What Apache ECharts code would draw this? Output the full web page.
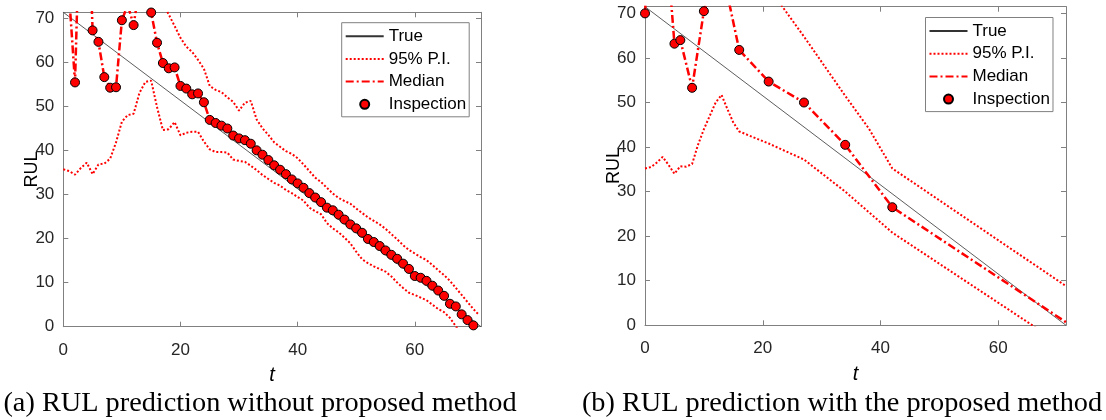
<!DOCTYPE html>
<html>
<head>
<meta charset="utf-8">
<script src="https://cdn.jsdelivr.net/npm/echarts@6/dist/echarts.min.js"></script>
<style>
  html, body { margin: 0; padding: 0; background: #fff; }
  #chart { width: 1106px; height: 420px; }
</style>
</head>
<body>
<div id="chart"></div>
<script>
// ---------- data ----------
// Panel (a): values indexed by time step t = 0, 1, 2, ...
const endA = 71.3;                      // failure time (true RUL hits zero)
const trueA = [[0, 71.3], [71.3, 0]];
const medianA = [78, 75, 55.4, 103, 105, 67.2, 64.6, 56.6, 54.2, 54.3,
  69.5, 73, 68.4, 77, 76, 71.25, 64.4, 59.8, 58.6, 58.8,
  54.6, 54.0, 52.7, 52.9, 50.9, 46.9, 46.2, 45.6, 44.95, 43.35,
  42.7, 42.3, 41.5, 40.0, 39.0, 37.8, 36.6, 35.6, 34.6, 33.4,
  32.5, 31.5, 30.3, 29.3, 28.25, 27.0, 26.4, 25.4, 24.3, 23.2,
  22.3, 21.3, 19.9, 19.2, 18.3, 17.3, 16.3, 15.4, 14.3, 13.1,
  11.5, 11.1, 10.4, 9.3, 8.2, 7.0, 5.2, 4.6, 2.8, 1.5, 0.3];
const upperA = [95, 96, 98, 100, 99, 97, 95, 93, 92, 90,
  88, 86, 85, 84, 82, 80, 77, 73.2, 70.8, 68.2,
  65.5, 63.5, 62.3, 60.5, 58.5, 54.6, 53.7, 53.2, 52.0, 51.0,
  49.0, 50.8, 51.2, 47.0, 45.0, 43.5, 41.8, 40.8, 39.8, 39.2,
  38.2, 36.8, 35.3, 33.8, 32.8, 31.5, 30.2, 29.2, 28.5, 27.9,
  26.8, 25.8, 24.8, 24.0, 23.2, 22.2, 21.0, 19.8, 18.5, 17.4,
  16.6, 15.8, 15.1, 14.0, 12.8, 11.7, 10.4, 8.8, 7.2, 5.6, 4.0, 2.6];
const lowerA = [35.7, 35.3, 34.5, 36.0, 37.2, 34.6, 36.8, 37.0, 38.1, 41.8,
  46.5, 48.0, 48.3, 53.0, 55.5, 55.8, 49.8, 44.6, 44.8, 46.4,
  43.4, 44.0, 44.2, 44.2, 42.0, 40.2, 39.6, 39.6, 39.5, 37.9,
  37.6, 37.4, 36.5, 35.5, 34.4, 33.5, 32.6, 32.0, 31.0, 30.3,
  29.4, 28.6, 27.0, 26.2, 25.5, 23.5, 22.3, 21.4, 20.2, 18.9,
  17.0, 15.3, 14.4, 13.7, 13.1, 12.5, 11.4, 10.0, 8.8, 7.7,
  7.2, 6.6, 6.0, 5.0, 4.0, 3.3, 2.0, 0.1, -1.6, -3.0, -4.5, -6.0];

// Panel (b): [t, value] vertices
const endB = 71.5;
const trueB = [[0, 71.5], [71.5, 0]];
const inspectB = [[0, 70.0], [5, 63.2], [6, 64.0], [8, 53.3], [10, 70.5],
  [16, 61.8], [21, 54.7], [27, 50.0], [34, 40.5], [42, 26.5]];
const medianB = [[0, 70.0], [1, 95], [2, 100], [3, 98], [4, 80], [5, 63.2], [6, 64.0],
  [8, 53.3], [10, 70.5], [11, 74.5], [14, 74.2], [16, 61.8], [21, 54.7],
  [27, 50.0], [34, 40.5], [42, 26.5], [71.5, 0.7]];
const upperB = [[0, 98], [16, 86], [21, 75.8], [27, 64.8], [34, 51.5],
  [38, 44.2], [42, 35.2], [71.5, 8.8]];
const lowerB = [[0, 35.2], [1, 35.5], [2, 36.5], [3, 37.8], [4, 36.0], [5, 34.0],
  [6, 35.7], [7, 35.6], [8, 36.2], [9, 40.5], [10, 44.0], [11, 47.0], [12, 50.0],
  [13, 51.7], [14, 48.5], [15, 45.5], [16, 43.5], [21, 40.8], [27, 37.2],
  [34, 30.0], [42, 20.8], [71.5, -5.0]];

const xTicks = { interval: 20 };
const yTicks = { interval: 10 };
const legendNames = ['True', '95% P.I.', 'Median', 'Inspection'];
const captionA = '(a) RUL prediction without proposed method';
const captionB = '(b) RUL prediction with the proposed method';

// ---------- styling ----------
const FONT = '"Liberation Sans", Arial, sans-serif';
const AXIS_GRAY = '#808080';
const RED = '#ff0000';
const indexed = arr => arr.map((v, i) => [i, v]);

function axisPair(kind, gridIndex, maxV, interval, name) {
  const main = {
    type: 'value', gridIndex, min: 0, max: maxV, interval,
    position: kind === 'x' ? 'bottom' : 'left',
    axisLine: { show: true, onZero: false, lineStyle: { color: AXIS_GRAY, width: 1 } },
    axisTick: { show: true, inside: true, length: 5, lineStyle: { color: AXIS_GRAY } },
    axisLabel: {
      show: true, showMaxLabel: false, color: '#262626', fontFamily: FONT, fontSize: 17,
      margin: kind === 'x' ? 15 : 9
    },
    splitLine: { show: false },
    name,
    nameLocation: 'middle',
    nameMoveOverlap: false,
    nameGap: kind === 'x' ? 39 : 22,
    nameTextStyle: kind === 'x'
      ? { fontFamily: FONT, fontSize: 20, fontStyle: 'italic', color: '#000' }
      : { fontFamily: FONT, fontSize: 18, color: '#000' }
  };
  const mirror = {
    type: 'value', gridIndex, min: 0, max: maxV, interval,
    position: kind === 'x' ? 'top' : 'right',
    axisLine: { show: true, onZero: false, lineStyle: { color: AXIS_GRAY, width: 1 } },
    axisTick: { show: true, inside: true, length: 5, lineStyle: { color: AXIS_GRAY } },
    axisLabel: { show: false },
    splitLine: { show: false }
  };
  return [main, mirror];
}

function panelSeries(xi, yi, trueData, upper, lower, median, inspect) {
  const base = { xAxisIndex: xi, yAxisIndex: yi, animation: false };
  return [
    Object.assign({}, base, {
      name: 'True', type: 'line', data: trueData, symbol: 'none', z: 2,
      lineStyle: { color: '#333333', width: 0.8 }, itemStyle: { color: '#333333' }
    }),
    Object.assign({}, base, {
      name: '95% P.I.', type: 'line', data: upper, symbol: 'none', z: 3,
      lineStyle: { color: RED, width: 2, type: [2, 2] }, itemStyle: { color: RED }
    }),
    Object.assign({}, base, {
      name: '95% P.I.', type: 'line', data: lower, symbol: 'none', z: 3,
      lineStyle: { color: RED, width: 2, type: [2, 2] }, itemStyle: { color: RED }
    }),
    Object.assign({}, base, {
      name: 'Median', type: 'line', data: median, symbol: 'none', z: 4,
      lineStyle: { color: RED, width: 2.5, type: [8, 3, 2, 3] }, itemStyle: { color: RED }
    }),
    Object.assign({}, base, {
      name: 'Inspection', type: 'scatter', data: inspect, symbol: 'circle', symbolSize: 9, z: 5,
      itemStyle: { color: RED, borderColor: '#000', borderWidth: 1, opacity: 1 }
    })
  ];
}

function legendAt(left, top) {
  const hide = { itemStyle: { opacity: 0 } };
  return {
    orient: 'vertical', left, top,
    padding: [5, 3, 4, 3],
    itemWidth: 38, itemHeight: 9, itemGap: 5.7,
    backgroundColor: '#fff', borderColor: AXIS_GRAY, borderWidth: 1,
    textStyle: { fontFamily: FONT, fontSize: 17, color: '#000' },
    selectedMode: false,
    data: [
      Object.assign({ name: legendNames[0] }, hide),
      Object.assign({ name: legendNames[1] }, hide),
      Object.assign({ name: legendNames[2] }, hide),
      { name: legendNames[3] }
    ]
  };
}

const [xa, xaTop] = axisPair('x', 0, endA, xTicks.interval, 't');
const [ya, yaRight] = axisPair('y', 0, endA, yTicks.interval, 'RUL');
const [xb, xbTop] = axisPair('x', 1, endB, xTicks.interval, 't');
const [yb, ybRight] = axisPair('y', 1, endB, yTicks.interval, 'RUL');

const option = {
  animation: false,
  backgroundColor: '#fff',
  grid: [
    { left: 63.3, top: 12.3, width: 417.7, height: 314.4, containLabel: false },
    { left: 645, top: 6.7, width: 421, height: 318.6, containLabel: false }
  ],
  xAxis: [xa, xaTop, xb, xbTop],
  yAxis: [ya, yaRight, yb, ybRight],
  legend: [legendAt(341.7, 22.7), legendAt(925.5, 17.5)],
  series: [
    ...panelSeries(0, 0, trueA, indexed(upperA), indexed(lowerA), indexed(medianA), indexed(medianA)),
    ...panelSeries(2, 2, trueB, upperB, lowerB, medianB, inspectB)
  ],
  graphic: [
    { type: 'text', x: 260, y: 404,
      style: { text: captionA, textAlign: 'center', textVerticalAlign: 'middle',
               font: '28.3px "Liberation Serif", "Times New Roman", serif', fill: '#000' } },
    { type: 'text', x: 842, y: 404,
      style: { text: captionB, textAlign: 'center', textVerticalAlign: 'middle',
               font: '28.3px "Liberation Serif", "Times New Roman", serif', fill: '#000' } }
  ]
};

const chart = echarts.init(document.getElementById('chart'), null, { renderer: 'canvas' });
chart.setOption(option);
</script>
</body>
</html>
